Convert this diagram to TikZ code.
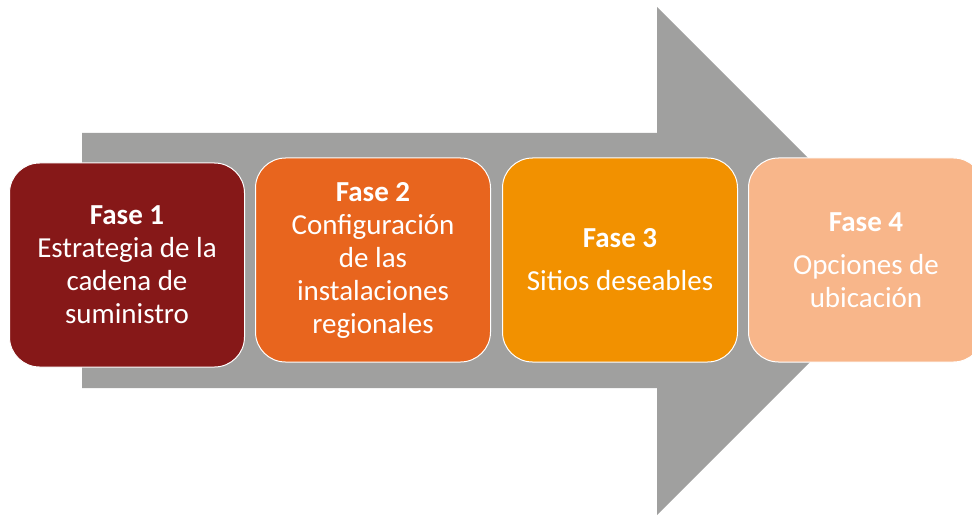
\documentclass[tikz,border=0pt]{standalone}
\usepackage{fontspec}
\setmainfont{Carlito}
\usepackage{tikz}
\definecolor{faseone}{HTML}{861818}
\definecolor{fasetwo}{HTML}{E8651E}
\definecolor{fasethree}{HTML}{F29100}
\definecolor{fasefour}{HTML}{F8B68A}
\definecolor{arrowgrey}{HTML}{A0A09F}
\tikzset{fasebox/.style={draw=white, line width=1pt, rounded corners=30pt,
    minimum width=235pt, minimum height=204pt, align=center, text=white,
    font=\fontsize{29}{33}\selectfont}}

\begin{document}
\begin{tikzpicture}[x=1pt,y=-1pt]
  \useasboundingbox (0,0) rectangle (972,516);
  \clip (0,0) rectangle (972,516);
  \fill[arrowgrey] (82,133) -- (657,133) -- (657,7) -- (911,261) -- (657,515) -- (657,388) -- (82,388) -- cycle;
  \node[fasebox, fill=faseone] at (127,265) (f1) {\textbf{Fase 1}\\Estrategia de la\\cadena de\\suministro};
  \node[fasebox, fill=fasetwo] at (373,260) (f2) {\textbf{Fase 2}\\Configuración\\de las\\instalaciones\\regionales};
  \node[fasebox, fill=fasethree] at (620,260) (f3) {\textbf{Fase 3}\\[10pt] Sitios deseables};
  \node[fasebox, fill=fasefour] at (866,260) (f4) {\textbf{Fase 4}\\[10pt] Opciones de\\ubicación};
\end{tikzpicture}
\end{document}
